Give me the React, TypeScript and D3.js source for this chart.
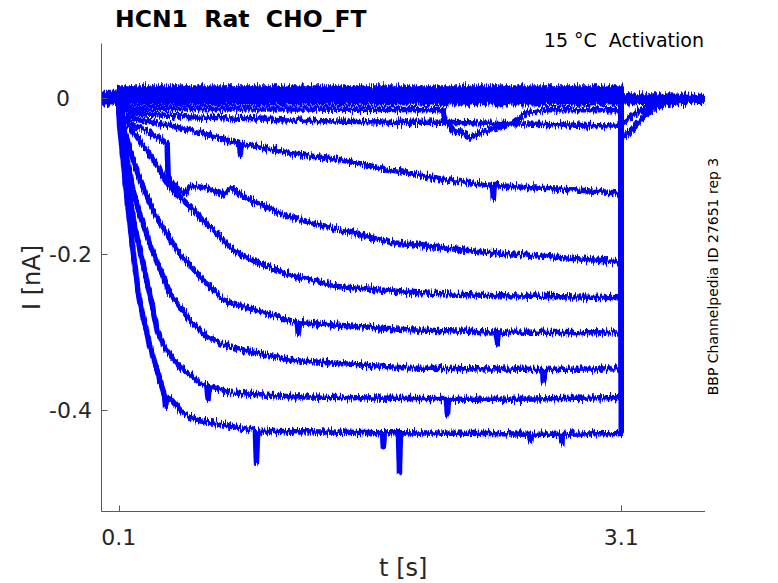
import React, { useRef, useEffect } from 'react';
import * as d3 from 'd3';

type Pt = [number, number]; // [t (s), I (nA)]

const xTicks = [0.1, 3.1];
const xTickLabels = ['0.1', '3.1'];
const yTicks = [0, -0.2, -0.4];
const yTickLabels = ['0', '-0.2', '-0.4'];

// sweeps, deepest first
const sweep1: Pt[] = [
  [0, 0.004], [0.1, 0.004], [0.101, -0.02], [0.108, -0.041], [0.126, -0.079], [0.15, -0.131],
  [0.168, -0.163], [0.185, -0.195], [0.209, -0.237], [0.227, -0.263], [0.287, -0.319],
  [0.329, -0.349], [0.359, -0.371], [0.372, -0.38], [0.38, -0.396], [0.388, -0.382],
  [0.406, -0.385], [0.484, -0.404], [0.568, -0.413], [0.724, -0.419], [0.915, -0.426],
  [0.922, -0.467], [0.93, -0.427], [1.32, -0.428], [1.675, -0.429], [1.68, -0.447],
  [1.686, -0.429], [1.77, -0.429], [1.776, -0.479], [1.782, -0.429], [2.3, -0.43],
  [2.552, -0.431], [2.558, -0.44], [2.564, -0.431], [2.74, -0.431], [2.745, -0.442],
  [2.75, -0.431], [3.1, -0.43], [3.1, -0.006], [3.6, -0.003],
];
const sweep2: Pt[] = [
  [0, 0.002], [0.1, 0.002], [0.102, -0.02], [0.114, -0.041], [0.138, -0.086], [0.168, -0.131],
  [0.197, -0.167], [0.227, -0.195], [0.287, -0.253], [0.329, -0.297], [0.365, -0.317],
  [0.395, -0.326], [0.466, -0.345], [0.586, -0.365], [0.625, -0.368], [0.633, -0.386],
  [0.64, -0.37], [0.783, -0.378], [1.123, -0.383], [1.822, -0.385], [2.055, -0.385],
  [2.062, -0.405], [2.07, -0.386], [2.5, -0.386], [3.1, -0.384], [3.1, -0.004], [3.6, -0.002],
];
const sweep3: Pt[] = [
  [0, 0], [0.1, 0], [0.103, -0.02], [0.12, -0.041], [0.15, -0.079], [0.185, -0.118],
  [0.227, -0.15], [0.299, -0.195], [0.406, -0.25], [0.526, -0.285], [0.627, -0.306],
  [0.765, -0.319], [1.123, -0.336], [1.822, -0.346], [2.628, -0.348], [2.636, -0.364],
  [2.645, -0.348], [3.1, -0.347], [3.1, -0.005], [3.6, -0.002],
];
const sweep4: Pt[] = [
  [0, -0.002], [0.1, -0.002], [0.104, -0.02], [0.126, -0.035], [0.168, -0.067], [0.227, -0.105],
  [0.317, -0.15], [0.448, -0.195], [0.586, -0.229], [0.724, -0.259], [1.123, -0.285],
  [1.165, -0.287], [1.172, -0.302], [1.18, -0.288], [1.822, -0.297], [2.352, -0.3],
  [2.36, -0.314], [2.368, -0.3], [3.1, -0.301], [3.1, -0.004], [3.6, -0.002],
];
const sweep5: Pt[] = [
  [0, 0.003], [0.1, 0.003], [0.104, -0.012], [0.12, -0.022], [0.168, -0.037], [0.287, -0.073],
  [0.406, -0.114], [0.604, -0.156], [0.783, -0.195], [0.902, -0.208], [1.123, -0.227],
  [1.422, -0.242], [1.822, -0.249], [2.3, -0.253], [3.1, -0.256], [3.1, -0.005], [3.6, -0.003],
];
const sweep6: Pt[] = [
  [0, -0.004], [0.1, -0.004], [0.108, -0.015], [0.138, -0.031], [0.227, -0.038], [0.329, -0.05],
  [0.389, -0.058], [0.395, -0.101], [0.424, -0.112], [0.466, -0.118], [0.496, -0.122],
  [0.526, -0.113], [0.627, -0.115], [0.724, -0.124], [0.777, -0.115], [0.825, -0.124],
  [0.926, -0.135], [1.123, -0.153], [1.422, -0.169], [1.721, -0.185], [2.259, -0.197],
  [3.1, -0.21], [3.1, -0.006], [3.6, -0.003],
];
const sweep7: Pt[] = [
  [0, 0.001], [0.1, 0.001], [0.12, -0.024], [0.329, -0.032], [0.526, -0.041], [0.82, -0.058],
  [0.826, -0.073], [0.832, -0.058], [1.123, -0.071], [1.422, -0.079], [1.721, -0.092],
  [2.062, -0.105], [2.33, -0.112], [2.336, -0.128], [2.342, -0.112], [2.557, -0.115],
  [2.856, -0.118], [3.1, -0.122], [3.1, -0.004], [3.6, -0.002],
];
const sweep8: Pt[] = [
  [0, -0.001], [0.1, -0.001], [0.114, -0.013], [0.168, -0.019], [0.526, -0.024], [1.123, -0.028],
  [1.721, -0.031], [2.038, -0.031], [3.1, -0.036], [3.1, -0.05], [3.125, -0.049],
  [3.184, -0.035], [3.25, -0.019], [3.334, -0.01], [3.45, -0.005], [3.6, -0.003],
];
const sweep9: Pt[] = [
  [0, 0.005], [0.1, 0.005], [0.114, -0.009], [0.168, -0.013], [2.038, -0.015], [2.045, -0.027],
  [2.091, -0.04], [2.199, -0.05], [2.318, -0.041], [2.456, -0.031], [2.528, -0.019],
  [2.659, -0.015], [3.1, -0.015], [3.1, -0.031], [3.113, -0.031], [3.167, -0.022],
  [3.208, -0.017], [3.3, -0.008], [3.6, -0.003],
];
const sweep10: Pt[] = [[0, 0.006], [0.1, 0.006], [0.102, 0.013], [3.1, 0.013], [3.1, 0.003], [3.6, 0.002]];
const sweep11: Pt[] = [[0, 0.002], [0.1, 0.002], [0.102, 0.007], [3.1, 0.007], [3.1, 0.001], [3.6, 0]];
const sweep12: Pt[] = [[0, -0.003], [0.1, -0.003], [0.102, 0.001], [3.1, 0.001], [3.1, -0.002], [3.6, -0.001]];
const sweep13: Pt[] = [[0, -0.006], [0.1, -0.006], [0.102, -0.006], [3.1, -0.006], [3.1, -0.004], [3.6, -0.004]];

const sweeps = [sweep1, sweep2, sweep3, sweep4, sweep5, sweep6, sweep7, sweep8, sweep9, sweep10, sweep11, sweep12, sweep13];

const App: React.FC = () => {
  const svgRef = useRef<SVGSVGElement>(null);

  useEffect(() => {
    if (!svgRef.current) return;
    const svg = d3.select(svgRef.current);
    svg.selectAll('*').remove();

    const left = 101.5;
    const right = 705;
    const top = 43.5;
    const bottom = 511.5;

    const x = d3.scaleLinear().domain([0, 3.6]).range([102, 705]);
    const y = d3.scaleLinear().domain([-0.53, 0.07]).range([bottom, top]);

    const line = d3.line<Pt>()
      .x(d => x(d[0]))
      .y(d => y(d[1]));

    // recording-noise look: vertical jitter only on the stroked traces
    const defs = svg.append('defs');
    const filter = defs.append('filter')
      .attr('id', 'noise')
      .attr('filterUnits', 'userSpaceOnUse')
      .attr('color-interpolation-filters', 'sRGB')
      .attr('x', 0).attr('y', 0).attr('width', 778).attr('height', 583);
    filter.append('feTurbulence')
      .attr('type', 'fractalNoise')
      .attr('baseFrequency', '0.8 0.08')
      .attr('numOctaves', 2)
      .attr('seed', 7)
      .attr('result', 'turb');
    filter.append('feColorMatrix')
      .attr('in', 'turb')
      .attr('type', 'matrix')
      .attr('values', '1 0 0 0 0  0 0 0 0 0.5  0 0 0 0 0.5  0 0 0 0 1')
      .attr('result', 'map');
    filter.append('feDisplacementMap')
      .attr('in', 'SourceGraphic')
      .attr('in2', 'map')
      .attr('scale', 11)
      .attr('xChannelSelector', 'G')
      .attr('yChannelSelector', 'R');

    // Traces
    svg.append('g')
      .attr('filter', 'url(#noise)')
      .selectAll('path')
      .data(sweeps)
      .join('path')
      .attr('d', d => line(d))
      .attr('fill', 'none')
      .attr('stroke', '#0000ff')
      .attr('stroke-width', 5.5)
      .attr('stroke-linejoin', 'round');

    // Axes (box off, ticks pointing in)
    const axisColor = '#595959';
    const g = svg.append('g');
    g.append('line').attr('x1', left).attr('x2', left).attr('y1', top).attr('y2', bottom)
      .attr('stroke', axisColor);
    g.append('line').attr('x1', left).attr('x2', right).attr('y1', bottom).attr('y2', bottom)
      .attr('stroke', axisColor);

    g.selectAll('.yt').data(yTicks).join('line')
      .attr('class', 'yt')
      .attr('x1', left).attr('x2', left + 6)
      .attr('y1', d => Math.round(y(d)) + 0.5).attr('y2', d => Math.round(y(d)) + 0.5)
      .attr('stroke', axisColor);
    g.selectAll('.xt').data(xTicks).join('line')
      .attr('class', 'xt')
      .attr('x1', d => Math.round(x(d)) + 0.5).attr('x2', d => Math.round(x(d)) + 0.5)
      .attr('y1', bottom).attr('y2', bottom - 6)
      .attr('stroke', axisColor);

    const font = '"DejaVu Sans", sans-serif';

    g.selectAll('.yl').data(yTicks).join('text')
      .attr('class', 'yl')
      .attr('x', (d, i) => (yTickLabels[i] === '0' ? 70 : 92))
      .attr('y', d => y(d) + 8)
      .attr('text-anchor', 'end')
      .attr('font-family', font)
      .attr('font-size', 22)
      .attr('fill', '#262626')
      .text((d, i) => yTickLabels[i]);

    g.selectAll('.xl').data(xTicks).join('text')
      .attr('class', 'xl')
      .attr('x', d => x(d))
      .attr('y', 545)
      .attr('text-anchor', 'middle')
      .attr('font-family', font)
      .attr('font-size', 22)
      .attr('fill', '#262626')
      .text((d, i) => xTickLabels[i]);

    // Axis labels
    svg.append('text')
      .attr('x', (left + right) / 2)
      .attr('y', 576)
      .attr('text-anchor', 'middle')
      .attr('font-family', font)
      .attr('font-size', 24)
      .attr('fill', '#262626')
      .text('t [s]');

    svg.append('text')
      .attr('transform', `translate(40,${(top + bottom) / 2}) rotate(-90)`)
      .attr('text-anchor', 'middle')
      .attr('font-family', font)
      .attr('font-size', 24)
      .attr('fill', '#262626')
      .text('I [nA]');

    // Title and annotations
    svg.append('text')
      .attr('x', 115)
      .attr('y', 27)
      .attr('font-family', font)
      .attr('font-size', 23.5)
      .attr('font-weight', 'bold')
      .attr('fill', '#000')
      .style('white-space', 'pre')
      .text('HCN1  Rat  CHO_FT');

    svg.append('text')
      .attr('x', 704)
      .attr('y', 47)
      .attr('text-anchor', 'end')
      .attr('font-family', font)
      .attr('font-size', 19)
      .attr('fill', '#000')
      .style('white-space', 'pre')
      .text('15 °C  Activation');

    svg.append('text')
      .attr('transform', 'translate(718,276.5) rotate(-90)')
      .attr('text-anchor', 'middle')
      .attr('font-family', font)
      .attr('font-size', 14)
      .attr('fill', '#000')
      .text('BBP Channelpedia ID 27651 rep 3');
  }, []);

  return (
    <div style={{ position: 'absolute', left: 0, top: 0 }}>
      <svg ref={svgRef} width={778} height={583} style={{ display: 'block', background: '#fff' }} />
    </div>
  );
};

export default App;
